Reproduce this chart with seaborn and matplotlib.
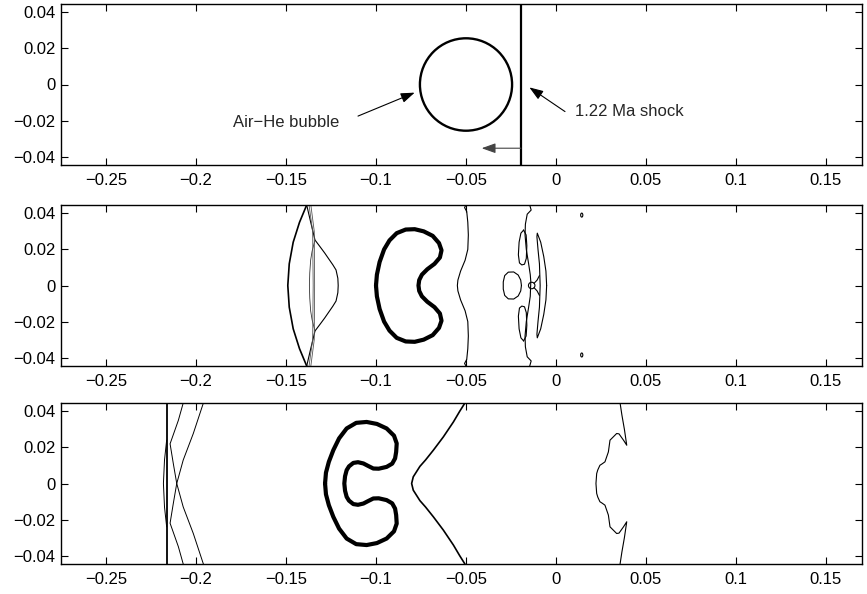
import numpy as np
import matplotlib
matplotlib.use("Agg")
import matplotlib.pyplot as plt
from matplotlib.patches import Circle, Ellipse
import seaborn as sns

# ---------------- data ----------------
XLIM = (-0.275, 0.17)
YLIM = (-0.0446, 0.0446)
XTICKS = [-0.25, -0.2, -0.15, -0.1, -0.05, 0, 0.05, 0.1, 0.15]
XTICKLABELS = ["\u22120.25", "\u22120.2", "\u22120.15", "\u22120.1", "\u22120.05", "0", "0.05", "0.1", "0.15"]
YTICKS = [-0.04, -0.02, 0, 0.02, 0.04]
YTICKLABELS = ["\u22120.04", "\u22120.02", "0", "0.02", "0.04"]

# panel 1 : initial state
BUBBLE0_CENTER = (-0.05, 0.0)
BUBBLE0_RADIUS = 0.0256
SHOCK0_X = -0.0195
LABEL_BUBBLE = "Air\u2212He bubble"
LABEL_BUBBLE_XY = (-0.150, -0.0208)
ARROW_BUBBLE = [(-0.110, -0.0175), (-0.0785, -0.0045)]
LABEL_SHOCK = "1.22 Ma shock"
LABEL_SHOCK_XY = (0.0106, -0.0152)
ARROW_SHOCK = [(0.0050, -0.0150), (-0.0148, -0.0016)]
ARROW_DIR = [(-0.0195, -0.0353), (-0.0413, -0.0353)]

# panel 2 : upper halves of symmetric contours (mirrored about y=0)
KIDNEY1_X = [-0.1000, -0.0995, -0.0980, -0.0955, -0.0925, -0.0885, -0.0835, -0.0785, -0.0735,
             -0.0685, -0.0650, -0.0636, -0.0645, -0.0675, -0.0715, -0.0745, -0.0760, -0.0764]
KIDNEY1_Y = [0.0000, 0.0060, 0.0130, 0.0200, 0.0250, 0.0290, 0.0310, 0.0312, 0.0300,
             0.0275, 0.0235, 0.0195, 0.0155, 0.0120, 0.0090, 0.0060, 0.0030, 0.0000]
WAVE1_X = [-0.0500, -0.0508, -0.0496, -0.0490, -0.0487, -0.0490, -0.0505, -0.0530, -0.0545, -0.0548]
WAVE1_Y = [0.0446, 0.0432, 0.0410, 0.0350, 0.0280, 0.0200, 0.0140, 0.0080, 0.0030, 0.0000]
STEM1_X = [-0.0146, -0.0138, -0.0160, -0.0170, -0.0172, -0.0165, -0.0152, -0.0143, -0.0140]
STEM1_Y = [0.0446, 0.0418, 0.0395, 0.0340, 0.0280, 0.0200, 0.0120, 0.0060, 0.0022]
LINK1_X = [-0.0122, -0.0105, -0.0092]
LINK1_Y = [0.0012, 0.0030, 0.0055]
CRESCENT1_X = [-0.0052, -0.0056, -0.0068, -0.0085, -0.0104, -0.0106, -0.0100, -0.0092, -0.0088]
CRESCENT1_Y = [0.0000, 0.0080, 0.0160, 0.0240, 0.0290, 0.0270, 0.0200, 0.0120, 0.0000]
DROP1_X = [-0.0180, -0.0166, -0.0162, -0.0165, -0.0175, -0.0190, -0.0203, -0.0209, -0.0205, -0.0195, -0.0180]
DROP1_Y = [0.0307, 0.0280, 0.0220, 0.0150, 0.0118, 0.0114, 0.0125, 0.0170, 0.0240, 0.0290, 0.0307]
BLOB1_X = [-0.0192, -0.0196, -0.0210, -0.0235, -0.0265, -0.0285, -0.0293, -0.0293]
BLOB1_Y = [0.0000, 0.0030, 0.0058, 0.0075, 0.0074, 0.0055, 0.0020, 0.0000]
RING1_CENTER = (-0.0135, 0.0)
RING1_RADIUS = 0.0018
DOT1_CENTERS = [(0.0143, 0.0390), (0.0143, -0.0385)]
DOT1_SIZE = (0.0012, 0.0022)
LENS1_X = [-0.1385, -0.1425, -0.1460, -0.1482, -0.1490]
LENS1_Y = [0.0446, 0.0350, 0.0240, 0.0120, 0.0000]
BUMP1_X = [-0.1385, -0.1365, -0.1339, -0.1311, -0.1285, -0.1265, -0.1240, -0.1222, -0.1212, -0.1210]
BUMP1_Y = [0.0446, 0.0360, 0.0252, 0.0215, 0.0180, 0.0151, 0.0115, 0.0086, 0.0040, 0.0000]
INNER1_X = [-0.1339, -0.1355, -0.1363, -0.1368, -0.1370]
INNER1_Y = [0.0252, 0.0190, 0.0141, 0.0070, 0.0000]
REFL1A_X = [-0.1372, -0.1352, -0.1349]
REFL1A_Y = [0.0446, 0.0300, 0.0000]
REFL1B_X = [-0.1362, -0.1343, -0.1341]
REFL1B_Y = [0.0446, 0.0300, 0.0000]

# panel 3
SHOCK2_X = -0.2163
LENS2_X = [-0.2163, -0.2175, -0.2181]
LENS2_Y = [0.0240, 0.0130, 0.0000]
CROSS2_X = [-0.2071, -0.2098, -0.2144, -0.2126, -0.2107, -0.2071, -0.2015, -0.1959]
CROSS2_Y = [0.0446, 0.0350, 0.0220, 0.0110, 0.0000, -0.0130, -0.0277, -0.0446]
KIDNEY2_X = [-0.1283, -0.1278, -0.1262, -0.1237, -0.1205, -0.1163, -0.1110, -0.1052, -0.0995,
             -0.0941, -0.0900, -0.0885, -0.0888, -0.0894, -0.0910, -0.0941, -0.0985, -0.1015,
             -0.1045, -0.1070, -0.1100, -0.1126, -0.1150, -0.1163, -0.1172, -0.1176]
KIDNEY2_Y = [0.0000, 0.0060, 0.0120, 0.0185, 0.0250, 0.0305, 0.0336, 0.0341, 0.0330,
             0.0305, 0.0265, 0.0222, 0.0175, 0.0139, 0.0110, 0.0092, 0.0082, 0.0083,
             0.0098, 0.0111, 0.0118, 0.0114, 0.0095, 0.0074, 0.0040, 0.0000]
WAVE2_X = [-0.0506, -0.0535, -0.0570, -0.0626, -0.0681, -0.0725, -0.0756, -0.0793, -0.0802]
WAVE2_Y = [0.0446, 0.0400, 0.0341, 0.0258, 0.0185, 0.0130, 0.0095, 0.0037, 0.0000]
FRONT2_X = [0.0356, 0.0366, 0.0380, 0.0393, 0.0375, 0.0350, 0.0337, 0.0318, 0.0300, 0.0291,
            0.0272, 0.0255, 0.0244, 0.0232, 0.0226, 0.0222]
FRONT2_Y = [0.0446, 0.0380, 0.0300, 0.0212, 0.0240, 0.0275, 0.0277, 0.0258, 0.0240, 0.0175,
            0.0120, 0.0108, 0.0101, 0.0075, 0.0055, 0.0000]


# ---------------- helpers ----------------
def mirrored(xs, ys):
    """upper half (ending on y=0) + its reflection, traversed back"""
    xs = list(xs)
    ys = list(ys)
    return xs + xs[-2::-1], ys + [-v for v in ys[-2::-1]]


def draw(ax, xs, ys, lw=0.8, color="black"):
    sns.lineplot(x=np.asarray(xs), y=np.asarray(ys), sort=False, estimator=None,
                 ax=ax, color=color, linewidth=lw, solid_joinstyle="round",
                 solid_capstyle="round")


# ---------------- style ----------------
sns.set_style("ticks")
plt.rcParams["font.family"] = ["Liberation Sans", "DejaVu Sans"]
plt.rcParams["axes.linewidth"] = 1.0

fig = plt.figure(figsize=(8.67, 5.94), dpi=100)
left, width, height = 61 / 867, 801 / 867, 161 / 594
bottoms = [1 - 165 / 594, 1 - 366 / 594, 1 - 564 / 594]
axes = [fig.add_axes([left, b, width, height]) for b in bottoms]

for ax in axes:
    ax.set_xlim(*XLIM)
    ax.set_ylim(*YLIM)

# ---- panel 1
ax = axes[0]
ax.add_patch(Circle(BUBBLE0_CENTER, BUBBLE0_RADIUS, fill=False, lw=1.7, ec="black"))
draw(ax, [SHOCK0_X, SHOCK0_X], [YLIM[0], YLIM[1]], lw=1.6)
ax.text(*LABEL_BUBBLE_XY, LABEL_BUBBLE, ha="center", va="center", fontsize=12)
ax.text(*LABEL_SHOCK_XY, LABEL_SHOCK, ha="left", va="center", fontsize=12)
for tail, head, c in [(ARROW_BUBBLE[0], ARROW_BUBBLE[1], "black"),
                      (ARROW_SHOCK[0], ARROW_SHOCK[1], "black"),
                      (ARROW_DIR[0], ARROW_DIR[1], "#444444")]:
    ax.annotate("", xy=head, xytext=tail,
                arrowprops=dict(arrowstyle="-|>,head_length=0.7,head_width=0.25",
                                color=c, lw=0.8, shrinkA=0, shrinkB=0,
                                mutation_scale=12))

# ---- panel 2
ax = axes[1]
draw(ax, *mirrored(KIDNEY1_X, KIDNEY1_Y), lw=3.0)
draw(ax, *mirrored(WAVE1_X, WAVE1_Y), lw=0.8)
draw(ax, *mirrored(STEM1_X, STEM1_Y), lw=0.8)
draw(ax, LINK1_X, LINK1_Y, lw=0.8)
draw(ax, LINK1_X, [-v for v in LINK1_Y], lw=0.8)
draw(ax, *mirrored(CRESCENT1_X, CRESCENT1_Y), lw=0.8)
draw(ax, DROP1_X, DROP1_Y, lw=0.8)
draw(ax, DROP1_X, [-v for v in DROP1_Y], lw=0.8)
draw(ax, *mirrored(BLOB1_X, BLOB1_Y), lw=0.8)
ax.add_patch(Circle(RING1_CENTER, RING1_RADIUS, fill=False, lw=0.8, ec="black"))
for c in DOT1_CENTERS:
    ax.add_patch(Ellipse(c, DOT1_SIZE[0], DOT1_SIZE[1], fill=False, lw=0.8, ec="black"))
draw(ax, *mirrored(LENS1_X, LENS1_Y), lw=1.2)
draw(ax, *mirrored(BUMP1_X, BUMP1_Y), lw=0.8)
draw(ax, *mirrored(INNER1_X, INNER1_Y), lw=0.6, color="#333333")
draw(ax, *mirrored(REFL1A_X, REFL1A_Y), lw=0.6, color="#555555")
draw(ax, *mirrored(REFL1B_X, REFL1B_Y), lw=0.6, color="#555555")

# ---- panel 3
ax = axes[2]
draw(ax, [SHOCK2_X, SHOCK2_X], [YLIM[0], YLIM[1]], lw=1.3)
draw(ax, *mirrored(LENS2_X, LENS2_Y), lw=0.7)
draw(ax, CROSS2_X, CROSS2_Y, lw=0.7)
draw(ax, CROSS2_X, [-v for v in CROSS2_Y], lw=0.7)
draw(ax, *mirrored(KIDNEY2_X, KIDNEY2_Y), lw=3.0)
draw(ax, *mirrored(WAVE2_X, WAVE2_Y), lw=1.2)
draw(ax, *mirrored(FRONT2_X, FRONT2_Y), lw=0.8)

for ax in axes:
    ax.set_xticks(XTICKS)
    ax.set_xticklabels(XTICKLABELS)
    ax.set_yticks(YTICKS)
    ax.set_yticklabels(YTICKLABELS)
    ax.set_xlabel("")
    ax.set_ylabel("")
    ax.tick_params(direction="in", top=True, right=True, length=5, width=0.8,
                   labelsize=12, colors="black")
    ax.tick_params(axis="x", pad=6)
    ax.tick_params(axis="y", pad=4)
    for s in ax.spines.values():
        s.set_visible(True)
        s.set_color("black")
        s.set_linewidth(1.0)

fig.savefig("out.png", dpi=100)
